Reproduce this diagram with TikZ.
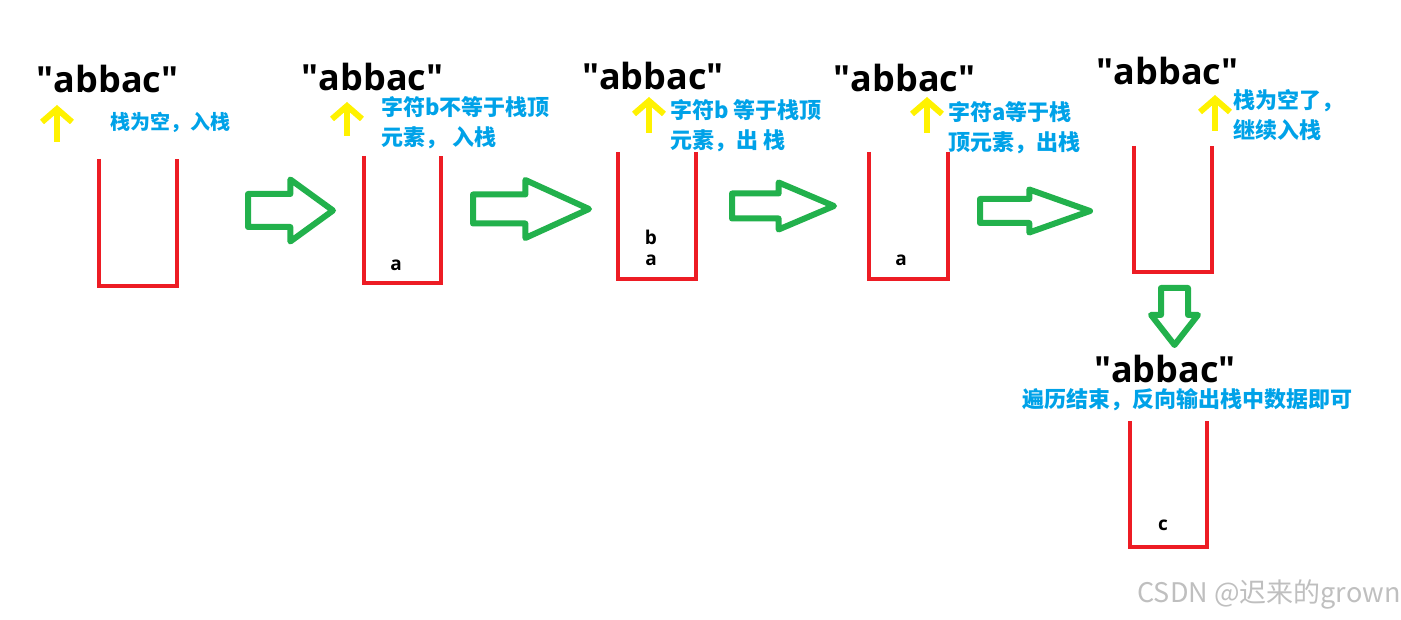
\documentclass[tikz,border=0pt]{standalone}
\usepackage{fontspec}
\setmainfont{Open Sans}
\newfontfamily\cjk{Noto Sans CJK SC}
\usepackage{tikz}
\definecolor{rosso}{RGB}{237,28,36}
\definecolor{verde}{RGB}{34,177,76}
\definecolor{giallo}{RGB}{255,242,0}
\definecolor{azzurro}{RGB}{0,162,232}
\usetikzlibrary{arrows.meta}
\usetikzlibrary{shapes.arrows}
\newcommand{\parola}{\textquotedbl abbac\textquotedbl}
\tikzset{
	stringa/.style={anchor=base,inner sep=0pt,font=\fontsize{36}{40}\selectfont\bfseries},
	nota/.style={anchor=west,inner sep=0pt,align=left,text=azzurro,font=\cjk\fontsize{22}{30}\selectfont\bfseries},
	elem/.style={inner sep=0pt,font=\fontsize{19}{22}\selectfont\bfseries},
	pila/.style={draw=rosso,line width=4pt},
	puntatore/.style={draw=giallo,line width=6pt,-{Straight Barb[length=13pt,width=30pt]}},
	blocco/.style={single arrow,draw=verde,line width=6pt,line join=round,inner sep=0pt,outer sep=0pt,anchor=tail},
	}

\begin{document}
\begin{tikzpicture}[x=1pt,y=-1pt]
\useasboundingbox (0,0) rectangle (1401,620);
% STRINGHE
\node[stringa] (s1) at (107.5,93) {\parola};
\node[stringa] (s2) at (372.5,91) {\parola};
\node[stringa] (s3) at (653,90) {\parola};
\node[stringa] (s4) at (904.5,92) {\parola};
\node[stringa] (s5) at (1167.5,85) {\parola};
\node[stringa] (s6) at (1165,382) {\parola};
% NOTE
\node[nota,font=\cjk\fontsize{20}{30}\selectfont\bfseries] (n1) at (110,122) {栈为空，入栈};
\node[nota] (n2) at (381,123) {字符b不等于栈顶\\元素， 入栈};
\node[nota] (n3) at (670,126) {字符b 等于栈顶\\元素，出 栈};
\node[nota] (n4) at (948,128) {字符a等于栈\\顶元素，出栈};
\node[nota] (n5) at (1233,115) {栈为空了，\\继续入栈};
\node[nota,anchor=center] (n6) at (1187,400) {遍历结束，反向输出栈中数据即可};
% PUNTATORI
\coordinate (p1) at (57,142);  \coordinate (q1) at (57,105);
\coordinate (p2) at (347,136); \coordinate (q2) at (347,102);
\coordinate (p3) at (649,133); \coordinate (q3) at (649,97);
\coordinate (p4) at (927,133); \coordinate (q4) at (927,97);
\coordinate (p5) at (1215,131); \coordinate (q5) at (1215,95);
\draw[puntatore] (p1) -- (q1);
\draw[puntatore] (p2) -- (q2);
\draw[puntatore] (p3) -- (q3);
\draw[puntatore] (p4) -- (q4);
\draw[puntatore] (p5) -- (q5);
% PILE
\draw[pila] (99,159) |- (177,286) -- (177,159);
\draw[pila] (364,156) |- (441,283) -- (441,156);
\draw[pila] (618,152) |- (696,279) -- (696,152);
\draw[pila] (869,152) |- (948,279) -- (948,152);
\draw[pila] (1134,146) |- (1212,272) -- (1212,146);
\draw[pila] (1130,421) |- (1207,547) -- (1207,421);
% ELEMENTI
\node[elem] (a2) at (396,265) {a};
\node[elem] (b3) at (651,237) {b};
\node[elem] (a3) at (651,260) {a};
\node[elem] (a4) at (901,260) {a};
\node[elem] (c6) at (1163,525) {c};
% FRECCE VERDI
\node[blocco,minimum height=85pt,text height=13.5pt,text depth=13.5pt,single arrow head extend=14.5pt,single arrow tip angle=72] (f1) at (248,210.5) {};
\node[blocco,minimum height=116pt,text height=11.5pt,text depth=11.5pt,single arrow head extend=14.5pt,single arrow tip angle=49] (f2) at (473,209) {};
\node[blocco,minimum height=102pt,text height=9.5pt,text depth=9.5pt,single arrow head extend=11pt,single arrow tip angle=46] (f3) at (732,206) {};
\node[blocco,minimum height=110pt,text height=9pt,text depth=9pt,single arrow head extend=9.5pt,single arrow tip angle=39] (f4) at (980,211) {};
\node[blocco,rotate=-90,minimum height=57pt,text height=10.5pt,text depth=10.5pt,single arrow head extend=10pt,single arrow tip angle=76] (f5) at (1174.5,288) {};
% FIRMA
\node[font=\cjk\fontsize{27}{30}\selectfont,text=black!25] (wm) at (1269,594) {CSDN @迟来的grown};
\end{tikzpicture}
\end{document}
